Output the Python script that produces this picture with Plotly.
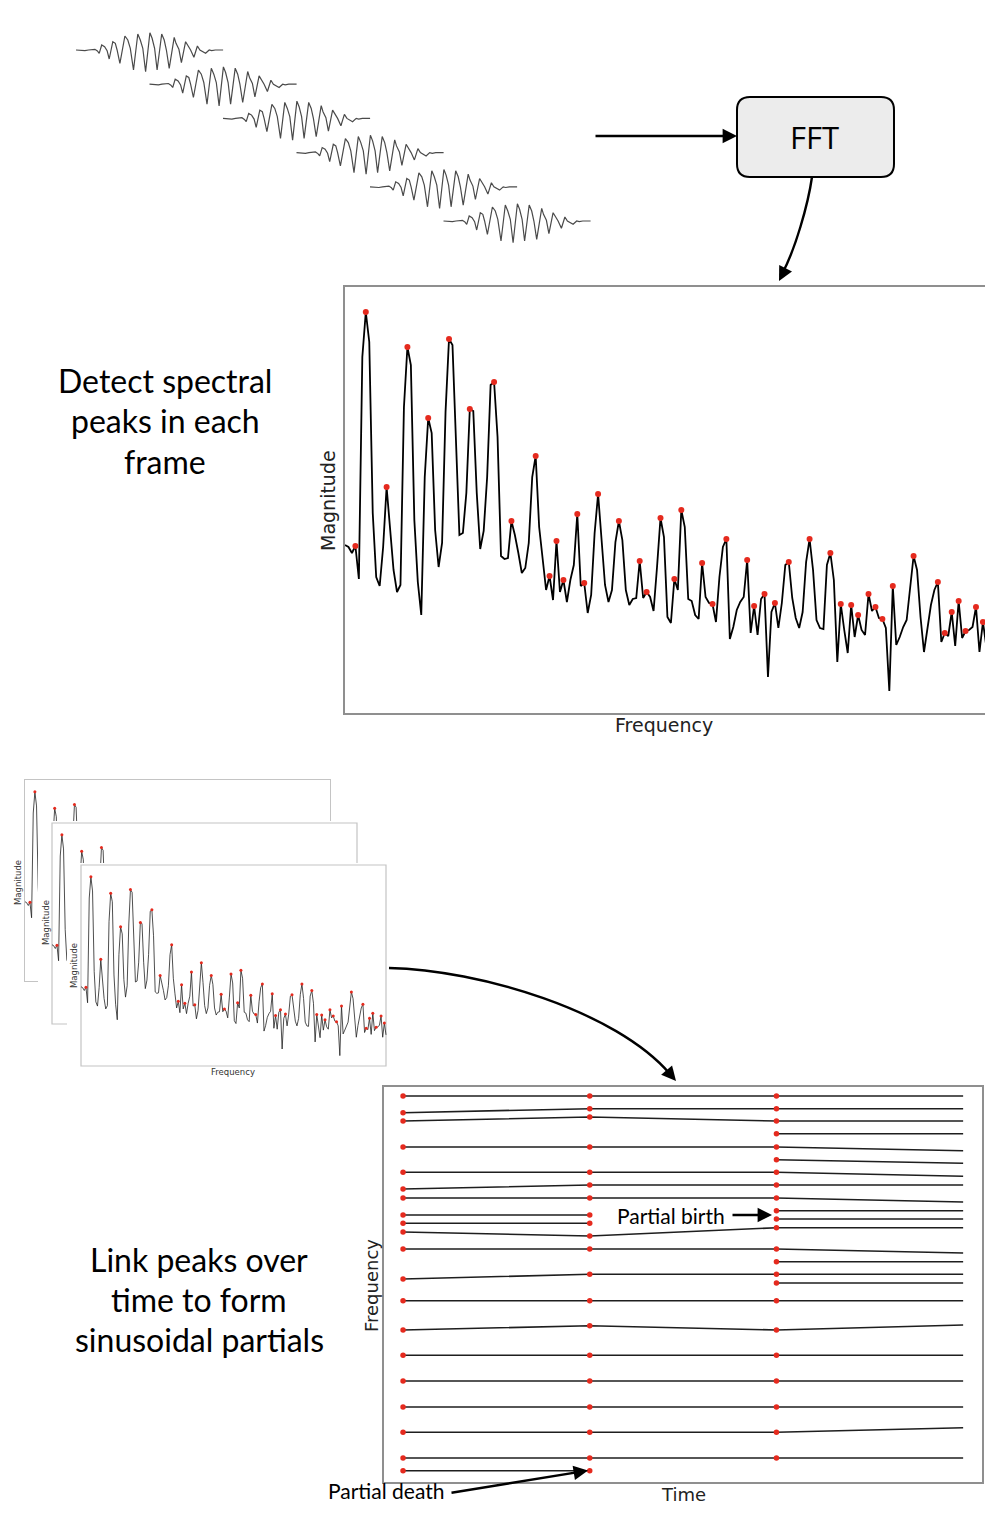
import plotly.graph_objects as go

W, H = 985, 1517

# ---------------- data ----------------
# one analysis frame of the signal (time in samples, amplitude)
wave_t = [0, 8.9, 12.5, 16.1, 18.9, 21.4, 23.2, 25.7, 28.6, 31.1, 33.2, 36.8, 39.3, 41.1, 43.9,
          48.9, 51.8, 54.3, 57.5, 61.8, 64.3, 66.8, 69.6, 73.9, 76.1, 78.6, 81.1, 85.7, 88.2,
          90.4, 93.2, 98.2, 100, 102.9, 105.4, 109.6, 111.8, 114.6, 117.9, 121.4, 123.9, 126.8,
          129.6, 133.2, 135.7, 139.3, 147.1]
wave_a = [0, -0.7, 0, 0.7, 0.7, -1, -3.3, 5, 3.3, -0.7, -9, 8.3, 6.7, 0, -13.3,
          14, 10, 1.7, -20, 16, 10, 1.7, -21.7, 17.3, 11.7, 1.7, -20, 16, 10,
          0, -18.3, 12.7, 6.7, 0.7, -12.7, 8.3, 5, 0, -7.3, 4, 0, -1.7,
          -3.3, 0, -0.7, 0, 0]
n_frames = 6
hop = 73.5

# magnitude spectrum (one value per FFT bin)
magnitude = [168, 166, 160, 167, 134, 356, 401, 371, 200, 136, 127, 166, 226, 180, 143, 121, 128, 306,
             366, 348, 193, 131, 98, 236, 295, 280, 183, 146, 170, 301, 374, 368, 273, 178, 180, 220,
             304, 302, 220, 164, 182, 236, 328, 331, 276, 157, 154, 155, 192, 178, 160, 140, 145, 170,
             236, 257, 186, 153, 123, 137, 113, 172, 121, 133, 111, 133, 148, 199, 127, 130, 100, 118,
             180, 219, 177, 128, 111, 123, 171, 192, 173, 123, 108, 114, 115, 152, 115, 121, 116, 102,
             146, 195, 176, 96, 90, 134, 123, 203, 186, 114, 112, 98, 94, 150, 116, 110, 109, 91,
             136, 166, 174, 74, 86, 103, 111, 116, 153, 80, 107, 78, 114, 119, 36, 101, 110, 85,
             110, 148, 151, 115, 95, 85, 101, 151, 174, 143, 93, 85, 84, 148, 160, 133, 51, 109,
             83, 60, 108, 76, 98, 83, 78, 119, 102, 106, 95, 94, 85, 22, 127, 68, 76, 86,
             93, 125, 157, 143, 96, 61, 86, 108, 123, 131, 71, 80, 77, 101, 67, 112, 75, 82,
             83, 86, 106, 61, 91, 66]
peak_bins = [3, 6, 12, 18, 24, 30, 36, 43, 48, 55, 59, 61, 63, 67, 69, 73, 79, 85, 87, 91, 95, 97,
             103, 106, 110, 116, 118, 121, 124, 128, 134, 140, 143, 146, 148, 151, 153, 155, 158,
             164, 171, 173, 175, 177, 179, 182, 184]
mag_max = 426
n_bins_small = 185

# sinusoidal partials: first frame index and frequency in each successive frame
analysis_frames = [0, 1, 2]
partial_start = [0, 0, 0, 2, 0, 2, 0, 0, 0, 0, 0, 2, 2, 0, 0, 2, 0, 2, 0, 0, 0, 0, 0, 0, 0, 0]
partial_freqs = [
    [386, 386, 386, 386],
    [369.3, 373.3, 373.3, 373.3],
    [361, 365, 361, 361],
    [348.3, 348.3],
    [335, 335, 335, 331.3],
    [322.3, 318.7],
    [309.7, 309.7, 309.7, 305.7],
    [293, 297, 297, 297],
    [284, 284, 284, 280],
    [267, 267],
    [258.7, 258.7],
    [271.3, 271.3],
    [263, 263],
    [250, 246, 254.3, 254.3],
    [233, 233, 233, 229],
    [220.3, 220.3],
    [203, 207.7, 207.7, 207.7],
    [199, 199],
    [181.3, 181.3, 181.3, 181.3],
    [152, 156.3, 152, 157],
    [126.7, 126.7, 126.7, 126.7],
    [101, 101, 101, 101],
    [75, 75, 75, 75],
    [49.7, 49.7, 49.7, 54.3],
    [24, 24, 24, 24],
    [11.3, 11.3],
]

# ---------------- helpers ----------------
def X(p):
    return p / W


def Y(p):
    return 1 - p / H


def dom_x(a, b):
    return [a / W, min(b / W, 1.0)]


def dom_y(top, bottom):
    return [1 - bottom / H, 1 - top / H]


def hidden(**kw):
    d = dict(showgrid=False, zeroline=False, showticklabels=False, ticks="",
             showline=False, fixedrange=True)
    d.update(kw)
    return d


RED = "#e52a1e"
SMALL_BORDER = "#c4c4c4"
fig = go.Figure()

# ---- waveform frames (subplot 1) ----
frame_dy = 34.2
for i in range(n_frames):
    fig.add_trace(go.Scatter(
        x=[t + i * hop for t in wave_t], y=[a - i * frame_dy for a in wave_a],
        mode="lines", line=dict(color="#4a4a4a", width=1.2),
        xaxis="x", yaxis="y", hoverinfo="skip"))

# ---- main spectrum (subplot 2) ----
bins = list(range(len(magnitude)))
fig.add_trace(go.Scatter(x=bins, y=magnitude, mode="lines",
                         line=dict(color="black", width=1.8), xaxis="x2", yaxis="y2"))
fig.add_trace(go.Scatter(x=peak_bins, y=[magnitude[b] for b in peak_bins], mode="markers",
                         marker=dict(color=RED, size=6), xaxis="x2", yaxis="y2"))

# ---- stacked small spectra (subplots 3,4,5) ----
for ax in ["3", "4", "5"]:
    fig.add_trace(go.Scatter(x=bins, y=magnitude, mode="lines",
                             line=dict(color="#222", width=0.8),
                             xaxis="x" + ax, yaxis="y" + ax))
    fig.add_trace(go.Scatter(x=peak_bins, y=[magnitude[b] for b in peak_bins], mode="markers",
                             marker=dict(color=RED, size=3), xaxis="x" + ax, yaxis="y" + ax))

# ---- partial tracks (subplot 6) ----
dot_t, dot_f = [], []
for s, fr in zip(partial_start, partial_freqs):
    ts = list(range(s, s + len(fr)))
    fig.add_trace(go.Scatter(x=ts, y=fr, mode="lines", line=dict(color="#1e1e1e", width=1.6),
                             xaxis="x6", yaxis="y6"))
    for t, f in zip(ts, fr):
        if t in analysis_frames:
            dot_t.append(t)
            dot_f.append(f)
fig.add_trace(go.Scatter(x=dot_t, y=dot_f, mode="markers", marker=dict(color=RED, size=5.5),
                         xaxis="x6", yaxis="y6"))


# small "sheet" subplots: box (axes) plus an opaque margin (the sheet) around it
def sheet_axes(box, sheet):
    bx0, by0, bx1, by1 = box
    sx0, sy0, sx1, sy1 = sheet
    kx = n_bins_small / (bx1 - bx0)
    ky = mag_max / (by1 - by0)
    xa = hidden(domain=dom_x(sx0, sx1), range=[(sx0 - bx0) * kx, (sx1 - bx0) * kx])
    ya = hidden(domain=dom_y(sy0, sy1), range=[(by1 - sy1) * ky, (by1 - sy0) * ky])
    return xa, ya


x4, y4 = sheet_axes((52, 823, 357, 1024), (38, 821, 360, 1026))
x5, y5 = sheet_axes((81, 865, 386, 1066), (67, 863, 389, 1068))

# ---------------- layout ----------------
border_main = dict(showline=True, linecolor="#8f8f8f", linewidth=1.5)
border_small = dict(showline=True, linecolor=SMALL_BORDER, linewidth=1.2)

layout = dict(
    width=W, height=H, margin=dict(l=0, r=0, t=0, b=0),
    paper_bgcolor="white", plot_bgcolor="white", showlegend=False,
    xaxis=hidden(domain=dom_x(70, 600), range=[-6, 524], anchor="y"),
    yaxis=hidden(domain=dom_y(20, 255), range=[-205, 30], anchor="x"),
    xaxis2=hidden(domain=dom_x(345, 985), range=[0, 640 / 3.467], anchor="y2", mirror=True, **border_main),
    yaxis2=hidden(domain=dom_y(287, 713), range=[0, mag_max], anchor="x2", **border_main),
    xaxis3=hidden(domain=dom_x(25, 330), range=[0, n_bins_small], anchor="y3", mirror=True, **border_small),
    yaxis3=hidden(domain=dom_y(780, 981), range=[0, mag_max], anchor="x3", mirror=True, **border_small),
    xaxis4=dict(x4, anchor="y4"),
    yaxis4=dict(y4, anchor="x4"),
    xaxis5=dict(x5, anchor="y5"),
    yaxis5=dict(y5, anchor="x5"),
    xaxis6=hidden(domain=dom_x(384, 982), range=[-0.102, 3.101], anchor="y6", mirror=True, **border_main),
    yaxis6=hidden(domain=dom_y(1087, 1482), range=[0, 395], anchor="x6", mirror=True, **border_main),
)

annotations = []


def text(x, y, s, size, family, color="black", angle=0):
    annotations.append(dict(x=X(x), y=Y(y), xref="paper", yref="paper", text=s, showarrow=False,
                            font=dict(size=size, family=family, color=color), textangle=angle,
                            xanchor="center", yanchor="middle"))


def arrow(xt, yt, xh, yh, width=2.4, size=1.2):
    annotations.append(dict(x=X(xh), y=Y(yh), xref="paper", yref="paper",
                            ax=xt - xh, ay=yt - yh, axref="pixel", ayref="pixel",
                            text="", showarrow=True, arrowhead=2, arrowsize=size,
                            arrowwidth=width, arrowcolor="black", standoff=0))


GILL = "Lato, 'Open Sans', sans-serif"
MPL = "'DejaVu Sans', sans-serif"

text(814, 137, "FFT", 31, "'Open Sans', sans-serif")
for yy, line in zip([381, 421, 461], ["Detect spectral", "peaks in each", "frame"]):
    text(165, yy, line, 32, GILL)
for yy, line in zip([1259, 1299, 1339], ["Link peaks over", "time to form", "sinusoidal partials"]):
    text(199, yy, line, 32, GILL)
text(328, 501, "Magnitude", 19, MPL, "#222", -90)
text(664, 725, "Frequency", 19, MPL, "#222")
text(18, 883, "Magnitude", 8.5, MPL, "#333", -90)
text(46, 923, "Magnitude", 8.5, MPL, "#333", -90)
text(74, 966, "Magnitude", 8.5, MPL, "#333", -90)
text(233, 1072, "Frequency", 8.5, MPL, "#333")
text(371, 1286, "Frequency", 18, MPL, "#222", -90)
text(683, 1494, "Time", 18, MPL, "#222")
text(671, 1215, "Partial birth", 21, GILL)
text(386, 1490, "Partial death", 21, GILL)

# straight arrows
arrow(594, 136, 737, 136)
arrow(731, 1215, 772, 1215)
arrow(450, 1493, 588, 1470.5)
# heads of the curved arrows (short arrows along the end tangent)
arrow(785.4, 268.6, 779, 281)
arrow(666.9, 1070.4, 676, 1081)


def P(x, y):
    return f"{X(x):.5f},{Y(y):.5f}"


shapes = []
# borders of the stacked sheets, drawn inside each sheet's own layer
for ax in ["4", "5"]:
    shapes.append(dict(type="rect", xref="x" + ax, yref="y" + ax, x0=0, x1=n_bins_small,
                       y0=0, y1=mag_max, layer="below",
                       line=dict(color=SMALL_BORDER, width=1.2)))
# FFT box (rounded)
x0, x1, y0, y1, r = 737, 894, 97, 177, 13
box = (f"M {P(x0 + r, y0)} L {P(x1 - r, y0)} Q {P(x1, y0)} {P(x1, y0 + r)} "
       f"L {P(x1, y1 - r)} Q {P(x1, y1)} {P(x1 - r, y1)} L {P(x0 + r, y1)} "
       f"Q {P(x0, y1)} {P(x0, y1 - r)} L {P(x0, y0 + r)} Q {P(x0, y0)} {P(x0 + r, y0)} Z")
shapes.append(dict(type="path", path=box, xref="paper", yref="paper",
                   fillcolor="#ececec", line=dict(color="black", width=2), layer="above"))
# curved arrow bodies
shapes.append(dict(type="path", xref="paper", yref="paper", layer="above",
                   path=f"M {P(812, 177)} C {P(808, 205)} {P(795, 250)} {P(782, 274)}",
                   line=dict(color="black", width=2.4)))
shapes.append(dict(type="path", xref="paper", yref="paper", layer="above",
                   path=f"M {P(389, 968)} C {P(480, 970)} {P(616, 1011)} {P(670, 1074)}",
                   line=dict(color="black", width=2.4)))

layout["annotations"] = annotations
layout["shapes"] = shapes
fig.update_layout(**layout)
fig.write_html("out.html")
